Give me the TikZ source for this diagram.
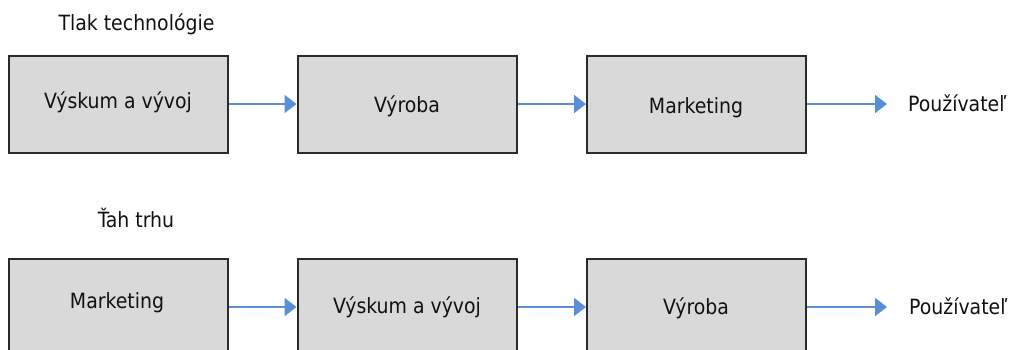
\documentclass[tikz,border=0pt]{standalone}
\usepackage{fontspec}
\setmainfont{DejaVu Sans Condensed}
\usetikzlibrary{arrows.meta}
\definecolor{boxfill}{HTML}{D9D9D9}
\definecolor{boxline}{HTML}{2B2B2B}
\definecolor{arrowblue}{HTML}{5A8ED6}
\definecolor{txt}{HTML}{111111}
\tikzset{
  stepbox/.style={draw=boxline, fill=boxfill, line width=2pt, minimum width=219pt, minimum height=97pt, inner sep=0pt},
  lbl/.style={font=\fontsize{21}{25}\selectfont, text=txt, inner sep=0pt, text height=15.3pt, text depth=0pt},
  flow/.style={draw=arrowblue, line width=2pt, -{Triangle[length=12pt,width=18pt]}}
}
\begin{document}
\begin{tikzpicture}[x=1pt,y=-1pt]
\useasboundingbox (0,0) rectangle (1013,349);
\clip (0,0) rectangle (1013,349);
% titles
\node[lbl] (t1) at (136.5,22.5) {Tlak technológie};
\node[lbl] (t2) at (136,220) {Ťah trhu};
% top row
\node[stepbox] (a1) at (118.5,104) {};
\node[stepbox] (a2) at (407,104) {};
\node[stepbox] (a3) at (696.5,104) {};
\node[lbl] (la1) at (118,100.5) {Výskum a vývoj};
\node[lbl] (la2) at (407,104.5) {Výroba};
\node[lbl] (la3) at (696,105.5) {Marketing};
\node[lbl, anchor=west] (ua) at (908,104) {Používateľ};
\coordinate (ea) at (887,104);
\draw[flow] (a1.east) -- (a2.west);
\draw[flow] (a2.east) -- (a3.west);
\draw[flow] (a3.east) -- (ea);
% bottom row
\node[stepbox] (b1) at (118.5,307) {};
\node[stepbox] (b2) at (407,307) {};
\node[stepbox] (b3) at (696.5,307) {};
\node[lbl] (lb1) at (117,300.5) {Marketing};
\node[lbl] (lb2) at (407,305.5) {Výskum a vývoj};
\node[lbl] (lb3) at (696,307) {Výroba};
\node[lbl, anchor=west] (ub) at (909,307) {Používateľ};
\coordinate (eb) at (887,307);
\draw[flow] (b1.east) -- (b2.west);
\draw[flow] (b2.east) -- (b3.west);
\draw[flow] (b3.east) -- (eb);
\end{tikzpicture}
\end{document}
